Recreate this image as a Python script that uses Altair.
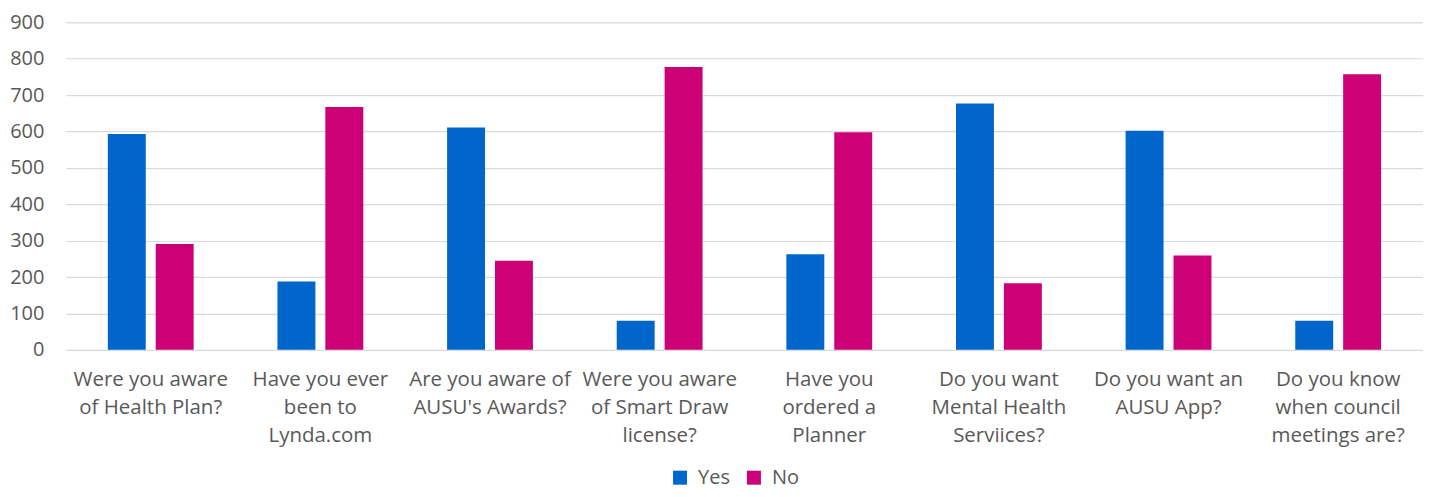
import altair as alt
import pandas as pd

categories = [
    "Were you aware|of Health Plan?",
    "Have you ever|been to|Lynda.com",
    "Are you aware of|AUSU's Awards?",
    "Were you aware|of Smart Draw|license?",
    "Have you|ordered a|Planner",
    "Do you want|Mental Health|Serviices?",
    "Do you want an|AUSU App?",
    "Do you know|when council|meetings are?",
]
yes_values = [593, 188, 611, 80, 263, 677, 602, 80]
no_values = [291, 667, 245, 777, 598, 183, 259, 757]
series = ["Yes", "No"]
colors = ["#0066CC", "#CC0077"]

rows = []
for c, y, n in zip(categories, yes_values, no_values):
    rows.append({"question": c, "answer": "Yes", "count": y})
    rows.append({"question": c, "answer": "No", "count": n})
df = pd.DataFrame(rows)

FONT = "Open Sans"
GRAY = "#595959"

chart = alt.Chart(df).mark_bar().encode(
    x=alt.X(
        "question:N",
        sort=categories,
        title=None,
        scale=alt.Scale(paddingInner=0.494, paddingOuter=0.247),
        axis=alt.Axis(
            labelExpr="split(datum.label, '|')",
            labelAngle=0,
            labelFont=FONT,
            labelFontSize=20.5,
            labelColor=GRAY,
            labelLineHeight=28,
            labelPadding=20,
            labelLimit=300,
            ticks=False,
            domain=False,
            grid=False,
        ),
    ),
    xOffset=alt.XOffset(
        "answer:N",
        sort=series,
        scale=alt.Scale(paddingInner=0.208, paddingOuter=0),
    ),
    y=alt.Y(
        "count:Q",
        title=None,
        scale=alt.Scale(domain=[0, 900], nice=False),
        axis=alt.Axis(
            values=list(range(0, 901, 100)),
            labelFont=FONT,
            labelFontSize=20,
            labelColor=GRAY,
            labelPadding=22,
            ticks=False,
            domain=False,
            grid=True,
            gridColor="#d9d9d9",
            gridWidth=1.2,
        ),
    ),
    color=alt.Color(
        "answer:N",
        sort=series,
        scale=alt.Scale(domain=series, range=colors),
        legend=alt.Legend(
            title=None,
            orient="none",
            legendX=605,
            legendY=446,
            direction="horizontal",
            symbolType="square",
            symbolSize=196,
            symbolStrokeWidth=0,
            labelFont=FONT,
            labelFontSize=20,
            labelColor=GRAY,
            labelOffset=8,
            columnPadding=14,
        ),
    ),
).properties(
    width=1359,
    height=328,
    autosize=alt.AutoSizeParams(type="none"),
    padding={"left": 58, "top": 14, "right": 0, "bottom": 141},
).configure_view(stroke=None)

chart.save("out.html", embed_options={"renderer": "svg", "actions": False})
